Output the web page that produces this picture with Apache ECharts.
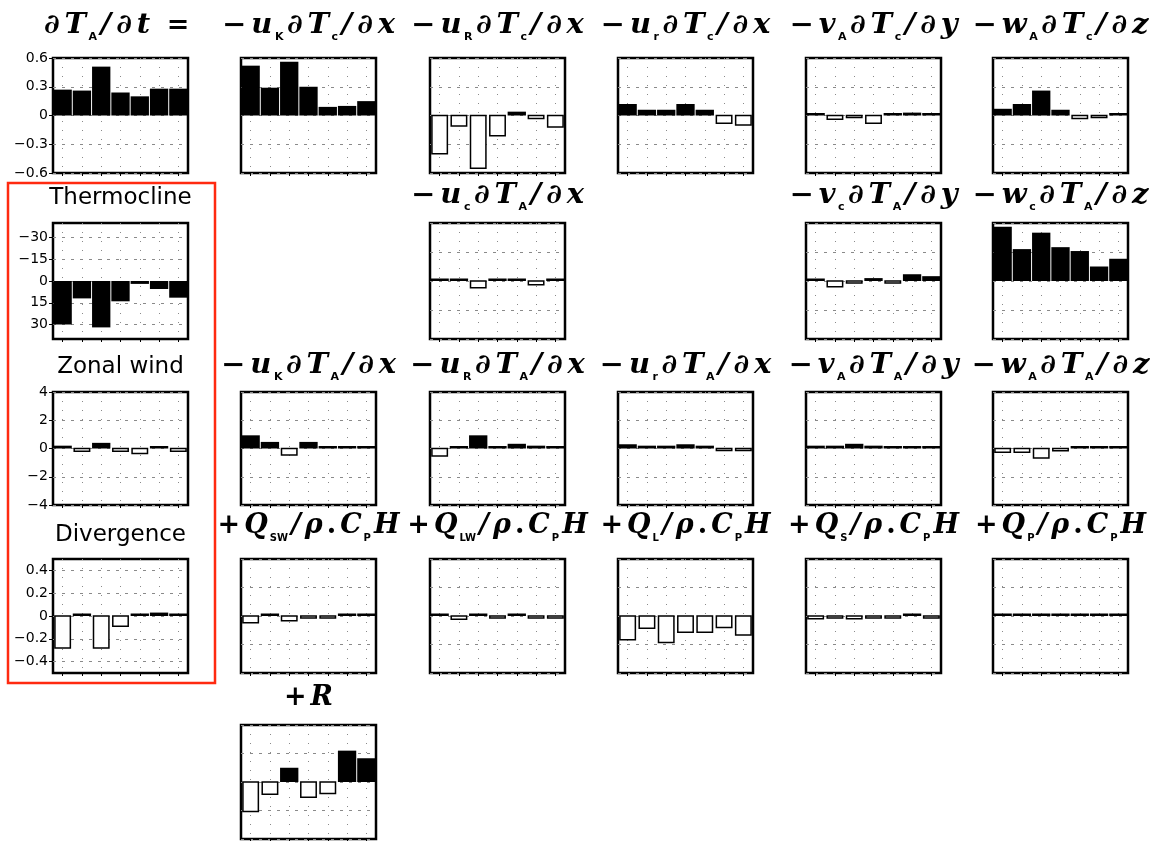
<!DOCTYPE html>
<html><head><meta charset="utf-8">
<script src="https://cdn.jsdelivr.net/npm/echarts@6/dist/echarts.min.js"></script>
<style>html,body{margin:0;padding:0;background:#fff}#c{width:1162px;height:841px}</style>
</head><body><div id="c"></div>
<script>
// ---------- data ----------
const categories = ['1','2','3','4','5','6','7'];
// row 1
const dTAdt  = [0.27, 0.26, 0.51, 0.24, 0.20, 0.28, 0.28];
const uK_dTc = [0.52, 0.29, 0.56, 0.30, 0.09, 0.10, 0.15];
const uR_dTc = [-0.40, -0.11, -0.55, -0.21, 0.04, -0.03, -0.12];
const ur_dTc = [0.12, 0.06, 0.06, 0.12, 0.06, -0.08, -0.10];
const vA_dTc = [0.01, -0.04, -0.01, -0.08, 0.01, 0.03, 0.01];
const wA_dTc = [0.07, 0.12, 0.26, 0.06, -0.03, -0.01, 0.01];
// row 2
const thermocline = [30, 12, 32, 14, 2, 5.5, 11.5];
const uc_dTA = [0.01, 0.01, -0.07, 0.01, 0.02, -0.04, 0.01];
const vc_dTA = [0.005, -0.06, -0.01, 0.03, -0.01, 0.07, 0.05];
const wc_dTA = [0.56, 0.33, 0.50, 0.35, 0.31, 0.15, 0.23];
// row 3
const zonalWind = [0.2, -0.2, 0.4, -0.2, -0.35, 0.1, -0.2];
const uK_dTA = [0.14, 0.07, -0.07, 0.07, 0.01, 0.01, 0.01];
const uR_dTA = [-0.08, 0.01, 0.14, 0.01, 0.05, 0.03, 0.01];
const ur_dTA = [0.045, 0.03, 0.03, 0.045, 0.03, -0.005, -0.005];
const vA_dTA = [0.03, 0.03, 0.05, 0.03, 0.005, 0.025, 0.025];
const wA_dTA = [-0.04, -0.04, -0.10, -0.025, 0.01, 0.01, 0.01];
// row 4
const divergence = [-0.28, 0.01, -0.28, -0.09, 0.005, 0.03, 0.01];
const Qsw = [-0.07, 0.01, -0.05, -0.01, -0.01, 0.005, 0.005];
const Qlw = [0.005, -0.035, 0.005, -0.01, 0.005, -0.01, -0.01];
const QL  = [-0.25, -0.13, -0.28, -0.17, -0.17, -0.12, -0.20];
const Qs  = [-0.03, -0.01, -0.03, -0.01, -0.01, 0.01, -0.01];
const Qp  = [0.005, 0.003, 0.003, 0.005, 0.005, 0.003, 0.003];
// row 5
const residual = [-0.31, -0.13, 0.15, -0.16, -0.12, 0.33, 0.25];

// tick labels
const tendencyTicks = [-0.6, -0.3, 0, 0.3, 0.6];
const thermoTicks = [-30, -15, 0, 15, 30];
const windTicks = [-4, -2, 0, 2, 4];
const divTicks = [-0.4, -0.2, 0, 0.2, 0.4];

// row labels
const rowLabels = ['Thermocline', 'Zonal wind', 'Divergence'];

// ---------- layout / styling ----------
const axes = {
  tendency: {min: -0.6, max: 0.6, interval: 0.3, ticks: tendencyTicks},
  thermo: {min: -40, max: 40, inverse: true, ticks: thermoTicks},
  wind: {min: -4, max: 4, interval: 2, ticks: windTicks},
  div: {min: -0.5, max: 0.5, ticks: divTicks}
};
const panels = [
  {data: dTAdt,  row: 0, col: 0, axis: 'tendency', labels: true, title: '∂T_{A}/∂t', wide: true, tx: 97},
  {data: uK_dTc, row: 0, col: 1, axis: 'tendency', title: '−u_{K}∂T_{c}/∂x', wide: true},
  {data: uR_dTc, row: 0, col: 2, axis: 'tendency', title: '−u_{R}∂T_{c}/∂x', wide: true},
  {data: ur_dTc, row: 0, col: 3, axis: 'tendency', title: '−u_{r}∂T_{c}/∂x', wide: true},
  {data: vA_dTc, row: 0, col: 4, axis: 'tendency', title: '−v_{A}∂T_{c}/∂y', wide: true},
  {data: wA_dTc, row: 0, col: 5, axis: 'tendency', title: '−w_{A}∂T_{c}/∂z', wide: true},
  {data: thermocline, row: 1, col: 0, axis: 'thermo', labels: true},
  {data: uc_dTA, row: 1, col: 2, axis: 'tendency', title: '−u_{c}∂T_{A}/∂x', wide: true},
  {data: vc_dTA, row: 1, col: 4, axis: 'tendency', title: '−v_{c}∂T_{A}/∂y', wide: true},
  {data: wc_dTA, row: 1, col: 5, axis: 'tendency', title: '−w_{c}∂T_{A}/∂z', wide: true},
  {data: zonalWind, row: 2, col: 0, axis: 'wind', labels: true},
  {data: uK_dTA, row: 2, col: 1, axis: 'tendency', title: '−u_{K}∂T_{A}/∂x', wide: true},
  {data: uR_dTA, row: 2, col: 2, axis: 'tendency', title: '−u_{R}∂T_{A}/∂x', wide: true},
  {data: ur_dTA, row: 2, col: 3, axis: 'tendency', title: '−u_{r}∂T_{A}/∂x', wide: true},
  {data: vA_dTA, row: 2, col: 4, axis: 'tendency', title: '−v_{A}∂T_{A}/∂y', wide: true},
  {data: wA_dTA, row: 2, col: 5, axis: 'tendency', title: '−w_{A}∂T_{A}/∂z', wide: true},
  {data: divergence, row: 3, col: 0, axis: 'div', labels: true},
  {data: Qsw, row: 3, col: 1, axis: 'tendency', title: '+Q_{SW}/ρ.C_{P}H'},
  {data: Qlw, row: 3, col: 2, axis: 'tendency', title: '+Q_{LW}/ρ.C_{P}H'},
  {data: QL,  row: 3, col: 3, axis: 'tendency', title: '+Q_{L}/ρ.C_{P}H'},
  {data: Qs,  row: 3, col: 4, axis: 'tendency', title: '+Q_{S}/ρ.C_{P}H'},
  {data: Qp,  row: 3, col: 5, axis: 'tendency', title: '+Q_{P}/ρ.C_{P}H'},
  {data: residual, row: 4, col: 1, axis: 'tendency', title: '+R'}
];
const colX = [53, 241, 430, 618, 806, 993];
const rowY = [58, 223, 392, 559, 725];
const rowH = [115, 116, 113, 114, 114];
const PW = 135;
const titleY = [26, 196, 366, 526, 698];
const labelY = [198, 367, 535];

function fmt(v) {
  if (Math.abs(v) < 1e-9) return '0';
  return (v < 0 ? '−' : '') + String(Math.abs(+v.toFixed(4)));
}

function richify(spec, wide) {
  const m = wide ? 'm' : 'n', u = wide ? 'u' : 'w';
  let out = '';
  let i = 0;
  while (i < spec.length) {
    const ch = spec[i];
    if (ch === '_' && spec[i + 1] === '{') {
      const j = spec.indexOf('}', i);
      out += '{s|' + spec.slice(i + 2, j) + '}';
      i = j + 1; continue;
    }
    if ('−+=.'.includes(ch)) out += '{' + u + '|' + ch + '}';
    else out += '{' + m + '|' + ch + '}';
    i++;
  }
  return out;
}
const serifI = {fontFamily: 'DejaVu Serif', fontStyle: 'italic', fontWeight: 'bold', fontSize: 27, fill: '#000', lineHeight: 34};
const serifU = {fontFamily: 'DejaVu Serif', fontWeight: 'bold', fontSize: 27, fill: '#000', lineHeight: 34};
const richWide = {
  m: Object.assign({}, serifI, {fontSize: 29, lineHeight: 36, padding: [0, 2.5, 0, 2.5]}),
  u: Object.assign({}, serifU, {fontSize: 29, lineHeight: 36, padding: [0, 2.5, 0, 2.5]}),
  s: {fontFamily: 'DejaVu Sans', fontWeight: 'bold', fontSize: 11, fill: '#000', lineHeight: 19, verticalAlign: 'bottom', padding: [0, 1, 0, 0]}
};
const richNarrow = {
  n: Object.assign({}, serifI, {padding: [0, 2, 0, 2]}),
  w: Object.assign({}, serifU, {padding: [0, 2, 0, 2]}),
  s: {fontFamily: 'DejaVu Sans', fontWeight: 'bold', fontSize: 10, fill: '#000', lineHeight: 18, verticalAlign: 'bottom', padding: [0, 1, 0, 0]}
};

function renderBar(params, api) {
  const i = api.value(0), v = api.value(1);
  const p0 = api.coord([i, 0]);
  const p1 = api.coord([i, v]);
  const bw = api.size([1, 0])[0];
  let h = Math.abs(p1[1] - p0[1]);
  const down = p1[1] > p0[1];
  if (v >= 0) {
    const w = bw * 0.95;
    if (h < 2.5) h = 2.5;
    const y = down ? p0[1] : p0[1] - h;
    return {type: 'rect', shape: {x: p0[0] - w / 2, y: y, width: w, height: h}, style: {fill: '#000'}};
  } else {
    const w = bw * 0.8;
    if (h < 2) h = 2;
    const y = down ? p0[1] : p0[1] - h;
    return {type: 'rect', shape: {x: p0[0] - w / 2, y: y, width: w, height: h},
      style: {fill: '#fff', stroke: '#000', lineWidth: 1.5}};
  }
}

const grid = [], xAxis = [], yAxis = [], series = [], graphic = [];
panels.forEach((p, k) => {
  const a = axes[p.axis];
  grid.push({left: colX[p.col], top: rowY[p.row], width: PW, height: rowH[p.row],
    show: true, borderColor: '#000', borderWidth: 2.5, backgroundColor: 'transparent'});
  xAxis.push({gridIndex: k, type: 'category', data: categories,
    axisLabel: {show: false},
    axisLine: {show: false, onZero: false},
    axisTick: {show: true, alignWithLabel: true, interval: 0, length: 3, lineStyle: {color: '#000', width: 1}},
    splitLine: {show: true, interval: 0, alignWithLabel: true, lineStyle: {color: '#8a8a8a', width: 1, type: [1, 8]}}
  });
  const y = {gridIndex: k, type: 'value', min: a.min, max: a.max, inverse: !!a.inverse,
    axisLine: {show: false},
    axisLabel: {show: !!p.labels, customValues: a.ticks, formatter: fmt, color: '#000',
      fontFamily: 'DejaVu Sans', fontSize: 14, margin: 5},
    axisTick: {show: !!p.labels, customValues: a.ticks, length: 4, lineStyle: {color: '#000', width: 1}},
    splitLine: {show: true, lineStyle: {color: '#8a8a8a', width: 1, type: [3, 6]}}
  };
  if (a.interval) y.interval = a.interval;
  yAxis.push(y);
  series.push({type: 'custom', xAxisIndex: k, yAxisIndex: k, renderItem: renderBar,
    encode: {x: 0, y: 1}, data: p.data.map((v, i) => [i, v]), animation: false, silent: true});
  if (p.title) {
    graphic.push({type: 'text', x: p.tx != null ? p.tx : colX[p.col] + PW / 2, y: titleY[p.row],
      scaleY: p.wide ? 0.93 : 1,
      style: {text: richify(p.title, p.wide), rich: p.wide ? richWide : richNarrow, align: 'center', verticalAlign: 'middle'}});
  }
});
graphic.push({type: 'text', x: 178, y: titleY[0],
  style: {text: '=', fontFamily: 'DejaVu Serif', fontWeight: 'bold', fontSize: 27, fill: '#000', align: 'center', verticalAlign: 'middle'}});
rowLabels.forEach((t, i) => {
  graphic.push({type: 'text', x: colX[0] + PW / 2, y: labelY[i],
    style: {text: t, fontFamily: 'DejaVu Sans', fontSize: 23, fill: '#000', align: 'center', verticalAlign: 'middle'}});
});
graphic.push({type: 'rect', shape: {x: 8, y: 183, width: 207, height: 500},
  style: {fill: 'none', stroke: '#ff2a10', lineWidth: 2.5}});

const chart = echarts.init(document.getElementById('c'), null, {renderer: 'canvas'});
chart.setOption({animation: false, backgroundColor: '#fff', grid, xAxis, yAxis, series, graphic});
</script></body></html>
